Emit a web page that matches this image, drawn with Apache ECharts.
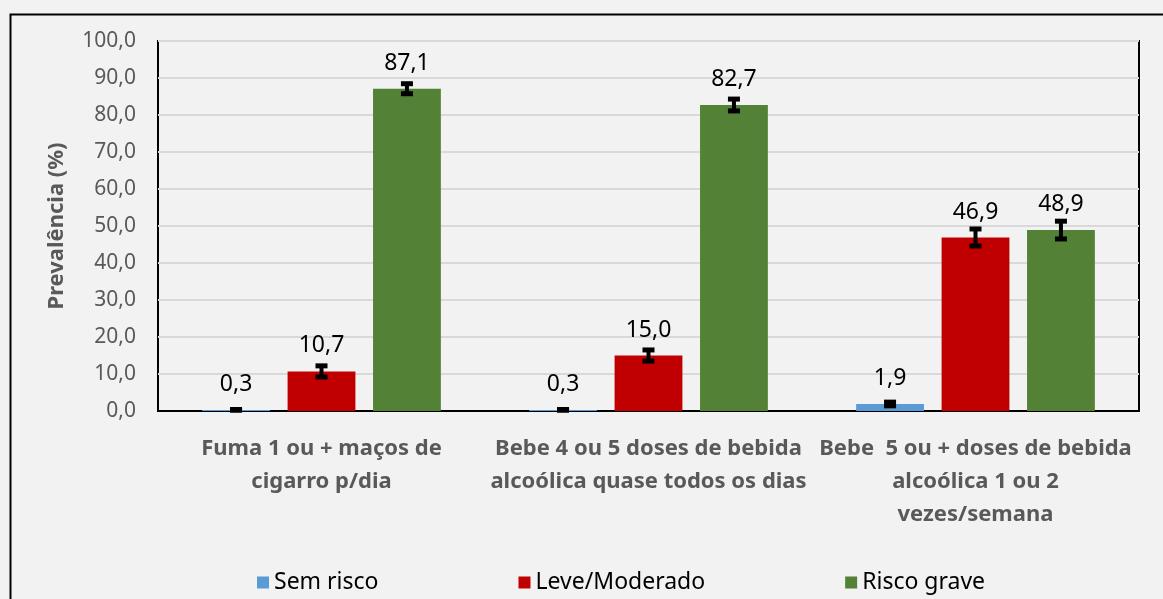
<!DOCTYPE html>
<html>
<head>
<meta charset="utf-8">
<script src="https://cdn.jsdelivr.net/npm/echarts@6/dist/echarts.min.js"></script>
<style>html,body{margin:0;padding:0;background:#f2f2f2;}#c{width:1163px;height:599px;}</style>
</head>
<body>
<div id="c"></div>
<script>
const categories = [
  'Fuma 1 ou + maços de\ncigarro p/dia',
  'Bebe 4 ou 5 doses de bebida\nalcoólica quase todos os dias',
  'Bebe  5 ou + doses de bebida\nalcoólica 1 ou 2\nvezes/semana'
];
const seriesNames = ['Sem risco', 'Leve/Moderado', 'Risco grave'];
const semRisco = [0.3, 0.3, 1.9];
const leveModerado = [10.7, 15.0, 46.9];
const riscoGrave = [87.1, 82.7, 48.9];
const errSemRisco = [0.1, 0.1, 0.5];
const errLeveModerado = [1.5, 1.5, 2.3];
const errRiscoGrave = [1.35, 1.6, 2.4];
const yTicks = [0, 10, 20, 30, 40, 50, 60, 70, 80, 90, 100];
const colors = ['#5b9bd5', '#c00000', '#538135'];

const values = [semRisco, leveModerado, riscoGrave];
const errs = [errSemRisco, errLeveModerado, errRiscoGrave];
const CAT_GAP = 0.27, BAR_GAP = 0.26;

const fmt = v => v.toFixed(1).replace('.', ',');

const barSeries = values.map((vals, i) => ({
  name: seriesNames[i],
  type: 'bar',
  data: vals,
  itemStyle: { color: colors[i] },
  barGap: (BAR_GAP * 100) + '%',
  barCategoryGap: (CAT_GAP * 100) + '%',
  label: {
    show: true, position: 'top', distance: 14,
    fontFamily: 'Noto Sans', fontSize: 23, color: '#000',
    formatter: p => fmt(p.value)
  },
  z: 2
}));

const errSeries = values.map((vals, i) => ({
  name: seriesNames[i] + ' err',
  type: 'custom',
  data: vals.map((v, k) => [k, v, v - errs[i][k], v + errs[i][k]]),
  z: 5,
  silent: true,
  renderItem: function (params, api) {
    const band = api.size([1, 0])[0];
    const bw = band * (1 - CAT_GAP) / (3 + 2 * BAR_GAP);
    const off = (i - 1) * bw * (1 + BAR_GAP);
    const lo = api.coord([api.value(0), api.value(2)]);
    const hi = api.coord([api.value(0), api.value(3)]);
    const x = lo[0] + off;
    const cw = 6;
    const st = { stroke: '#000', lineWidth: 4 };
    const cs = { stroke: '#000', lineWidth: 5 };
    return {
      type: 'group',
      children: [
        { type: 'line', shape: { x1: x, y1: lo[1], x2: x, y2: hi[1] }, style: st },
        { type: 'line', shape: { x1: x - cw, y1: lo[1], x2: x + cw, y2: lo[1] }, style: cs },
        { type: 'line', shape: { x1: x - cw, y1: hi[1], x2: x + cw, y2: hi[1] }, style: cs }
      ]
    };
  }
}));

const chart = echarts.init(document.getElementById('c'), null, { renderer: 'canvas' });
chart.setOption({
  backgroundColor: '#f2f2f2',
  animation: false,
  graphic: [{
    type: 'rect', left: 8, top: 12,
    shape: { width: 1200, height: 640 },
    style: { fill: 'none', stroke: '#000', lineWidth: 2 },
    silent: true, z: -1
  }],
  grid: {
    left: 158, top: 41, right: 24, bottom: 188,
    show: true, borderColor: '#000', borderWidth: 2, backgroundColor: 'transparent'
  },
  legend: {
    data: seriesNames,
    bottom: 0, left: 252,
    icon: 'rect', itemWidth: 12, itemHeight: 12, itemGap: 140,
    textStyle: { fontFamily: 'Noto Sans', fontSize: 23, color: '#000' }
  },
  xAxis: {
    type: 'category',
    data: categories,
    axisLine: { lineStyle: { color: '#000', width: 2 } },
    axisTick: { show: false },
    axisLabel: {
      interval: 0, margin: 21,
      fontFamily: 'Noto Sans', fontWeight: 'bold', fontSize: 22, color: '#595959',
      lineHeight: 33
    }
  },
  yAxis: {
    type: 'value',
    min: yTicks[0], max: yTicks[yTicks.length - 1], interval: 10,
    name: 'Prevalência (%)',
    nameLocation: 'middle', nameGap: 90, nameRotate: 90,
    nameTextStyle: { fontFamily: 'Noto Sans', fontWeight: 'bold', fontSize: 22, color: '#595959' },
    axisLine: { show: false },
    axisTick: { show: false },
    axisLabel: {
      margin: 22, fontFamily: 'Noto Sans', fontSize: 21, color: '#595959',
      formatter: v => fmt(v)
    },
    splitLine: { lineStyle: { color: '#d9d9d9', width: 2 } }
  },
  series: barSeries.concat(errSeries)
});
</script>
</body>
</html>
